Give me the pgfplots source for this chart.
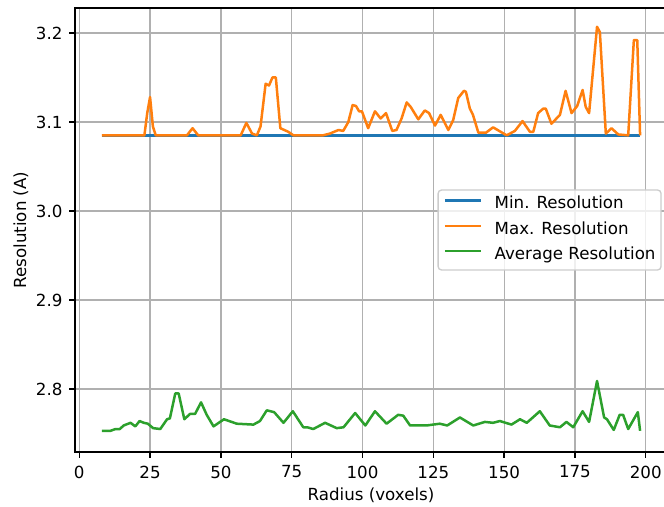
\documentclass[border=0pt]{standalone}
\usepackage{pgfplots}
\pgfplotsset{compat=1.18}
\usepackage{fontspec}
\setmainfont{DejaVu Sans}
\definecolor{mplblue}{HTML}{1F77B4}
\definecolor{mplorange}{HTML}{FF7F0E}
\definecolor{mplgreen}{HTML}{2CA02C}
\definecolor{gridgray}{HTML}{B0B0B0}
\definecolor{legedge}{HTML}{CCCCCC}
\begin{document}
\begin{tikzpicture}[x=1pt,y=1pt]
\useasboundingbox (-54,-38.88) rectangle (424.08,325.44);
\clip (-54,-38.88) rectangle (424.08,325.44);
\begin{axis}[
  at={(0,0)}, anchor=south west,
  scale only axis,
  width=426.24pt, height=319.68pt,
  xmin=-1.5, xmax=207.5,
  ymin=2.7292, ymax=3.2281,
  xtick={0,25,50,75,100,125,150,175,200},
  ytick={2.8,2.9,3.0,3.1,3.2},
  yticklabel style={/pgf/number format/fixed, /pgf/number format/fixed zerofill, /pgf/number format/precision=1},
  /pgf/number format/assume math mode=true,
  tick label style={font=\fontsize{12}{14}\selectfont, inner sep=0pt},
  xticklabel style={yshift=-5.5pt},
  yticklabel style={xshift=-4.6pt},
  label style={font=\fontsize{12}{14}\selectfont},
  xlabel={Radius (voxels)},
  ylabel={Resolution (A)},
  xlabel style={yshift=-3.5pt},
  ylabel style={yshift=2pt},
  tick align=outside,
  major tick length=4.2pt,
  xtick pos=bottom, ytick pos=left,
  every tick/.style={black, line width=0.96pt},
  axis line style={line width=0.96pt},
  grid=major,
  major grid style={gridgray, line width=0.9pt},
  legend style={at={(rel axis cs:1,0.5)}, anchor=east, xshift=-3.8pt,
    draw=legedge, line width=0.96pt, rounded corners=2.5pt, fill=white, fill opacity=0.8, text opacity=1,
    font=\fontsize{12}{14}\selectfont, inner xsep=4pt, inner ysep=4.6pt,
    row sep=6.2pt,
    nodes={inner sep=0pt, text height=9pt, text depth=3pt},
    /tikz/every odd column/.append style={column sep=8.9pt}},
  legend cell align=left,
  legend image code/.code={\draw[#1] (0pt,3pt) -- (26pt,3pt);},
]
\addplot[mplblue, line width=1.8pt, line join=round] coordinates {(8,3.085) (198,3.085)};
\addlegendentry{Min. Resolution}
\addplot[mplorange, line width=1.8pt, line join=round] coordinates {
(8,3.085) (23,3.085) (24,3.11) (25,3.128) (26,3.095) (27,3.085) (38,3.085) (40,3.093) (42,3.085)
(57,3.085) (59,3.099) (61,3.087) (62.7,3.085) (64,3.095) (65.8,3.143) (67,3.141) (68.2,3.150)
(69.4,3.150) (71,3.093) (73.8,3.089) (75.6,3.085) (86,3.085) (88.5,3.087) (91.5,3.091) (93.2,3.090)
(95,3.1) (96.5,3.119) (97.7,3.118) (98.8,3.112) (99.8,3.112) (102,3.093) (104.4,3.112)
(106.4,3.104) (108.3,3.110) (110.5,3.090) (112,3.091) (113.8,3.104) (115.6,3.122) (117,3.117)
(119.7,3.103) (122,3.113) (123.5,3.110) (125.6,3.096) (127.6,3.108) (130.3,3.091) (132,3.102)
(133.8,3.127) (135.8,3.135) (136.5,3.134) (137.9,3.115) (139,3.108) (140.9,3.088) (143.6,3.088)
(146.1,3.094) (150.9,3.085) (153.8,3.090) (156.5,3.101) (159.1,3.089) (160.3,3.089) (162,3.110)
(163.8,3.115) (164.7,3.115) (166.7,3.098) (169.7,3.108) (171.7,3.135) (173.8,3.110) (175.8,3.118)
(177.7,3.136) (178.8,3.117) (180,3.110) (182.8,3.207) (183.8,3.201) (185.9,3.087) (187.9,3.093)
(190.3,3.086) (193.8,3.085) (195.8,3.192) (197,3.192) (198,3.085)};
\addlegendentry{Max. Resolution}
\addplot[mplgreen, line width=1.8pt, line join=round] coordinates {
(8,2.753) (11,2.753) (12.8,2.755) (14.3,2.755) (15.7,2.759) (18.1,2.762) (19.8,2.758) (21.3,2.764)
(22.8,2.762) (24.2,2.761) (26.1,2.756) (28.6,2.755) (31,2.766) (32,2.767) (33.9,2.795) (35.1,2.795)
(37.1,2.766) (39.1,2.772) (40.9,2.772) (43,2.785) (45,2.771) (47.4,2.758) (51.1,2.766) (55.6,2.761)
(61.5,2.760) (63.8,2.764) (66.2,2.776) (68.8,2.774) (72.1,2.762) (75.4,2.775) (79.1,2.757)
(80.5,2.757) (82.6,2.755) (86.8,2.762) (90.9,2.756) (93.3,2.757) (97.4,2.773) (101,2.759)
(104.4,2.775) (108.5,2.761) (112.6,2.771) (114.4,2.770) (116.8,2.759) (122.6,2.759) (127.3,2.761)
(129.9,2.759) (134.4,2.768) (139.1,2.759) (143.2,2.763) (146.1,2.762) (148.5,2.764) (152.6,2.760)
(155.6,2.766) (158,2.762) (162.6,2.775) (166.1,2.759) (169.7,2.757) (172,2.763) (174.4,2.757)
(177.7,2.775) (180,2.763) (182.8,2.809) (185.3,2.768) (186.3,2.766) (188.7,2.754) (190.8,2.771)
(192,2.771) (193.8,2.755) (197.2,2.774) (198,2.753)};
\addlegendentry{Average Resolution}
\end{axis}
\end{tikzpicture}
\end{document}
